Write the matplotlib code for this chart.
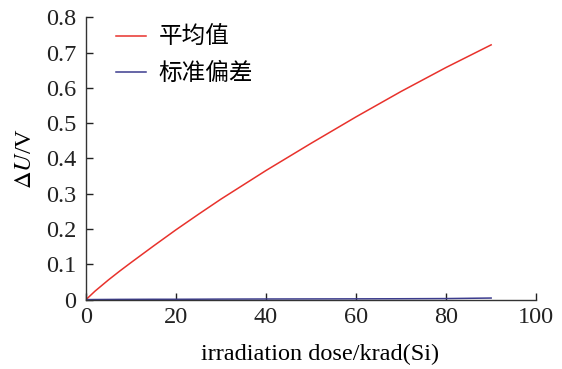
import numpy as np
import matplotlib
matplotlib.use("Agg")
import matplotlib.pyplot as plt

plt.rcParams['font.family'] = ['Liberation Serif', 'Noto Sans CJK SC']
plt.rcParams['mathtext.fontset'] = 'stix'

# irradiation dose (krad(Si)) and threshold shift statistics
dose = [0, 2, 5, 7.5, 10, 15, 20, 25, 30, 40, 50, 60, 70, 80, 90]
mean_shift = [0, 0.024, 0.056, 0.081, 0.105, 0.152, 0.198, 0.242, 0.285, 0.366, 0.443, 0.518, 0.590, 0.658, 0.722]
std_shift = [0, 0.0003, 0.0005, 0.0007, 0.0008, 0.001, 0.001, 0.0012, 0.0015, 0.0018, 0.002, 0.0022, 0.0025, 0.003, 0.0045]

xticks = [0, 20, 40, 60, 80, 100]
yticks = [0, 0.1, 0.2, 0.3, 0.4, 0.5, 0.6, 0.7, 0.8]
ytick_labels = ["0", "0.1", "0.2", "0.3", "0.4", "0.5", "0.6", "0.7", "0.8"]

fig = plt.figure(figsize=(5.62, 3.69), dpi=100)
ax = fig.add_axes([0.153, 0.188, 0.801, 0.765])

ax.plot(dose, mean_shift, color='#e8322c', lw=1.1, label='平均值')
ax.plot(dose, std_shift, color='#3c3c8e', lw=1.1, label='标准偏差')

ax.set_xlim(0, 100)
ax.set_ylim(0, 0.8)
ax.set_xticks(xticks)
ax.set_yticks(yticks)
ax.set_yticklabels(ytick_labels)

for s in ['top', 'right']:
    ax.spines[s].set_visible(False)
for s in ['left', 'bottom']:
    ax.spines[s].set_color('#333333')
    ax.spines[s].set_linewidth(1.0)

ax.tick_params(axis='both', direction='in', length=5, width=1.0, colors='#222222', labelsize=17.5)
ax.tick_params(axis='y', pad=7)
ax.tick_params(axis='x', pad=5)

ax.set_xlabel('irradiation dose/krad(Si)', fontsize=17.5, labelpad=12)
ax.xaxis.label.set_x(0.52)
ax.set_ylabel(r'$\Delta U$/V', fontsize=17.5, labelpad=7)

leg = ax.legend(loc='upper left', bbox_to_anchor=(0.02, 1.045), frameon=False,
                prop={'family': 'Noto Sans CJK SC', 'size': 17},
                handlelength=1.25, handletextpad=0.55, labelspacing=0.55)

fig.savefig('out.png', dpi=100)
